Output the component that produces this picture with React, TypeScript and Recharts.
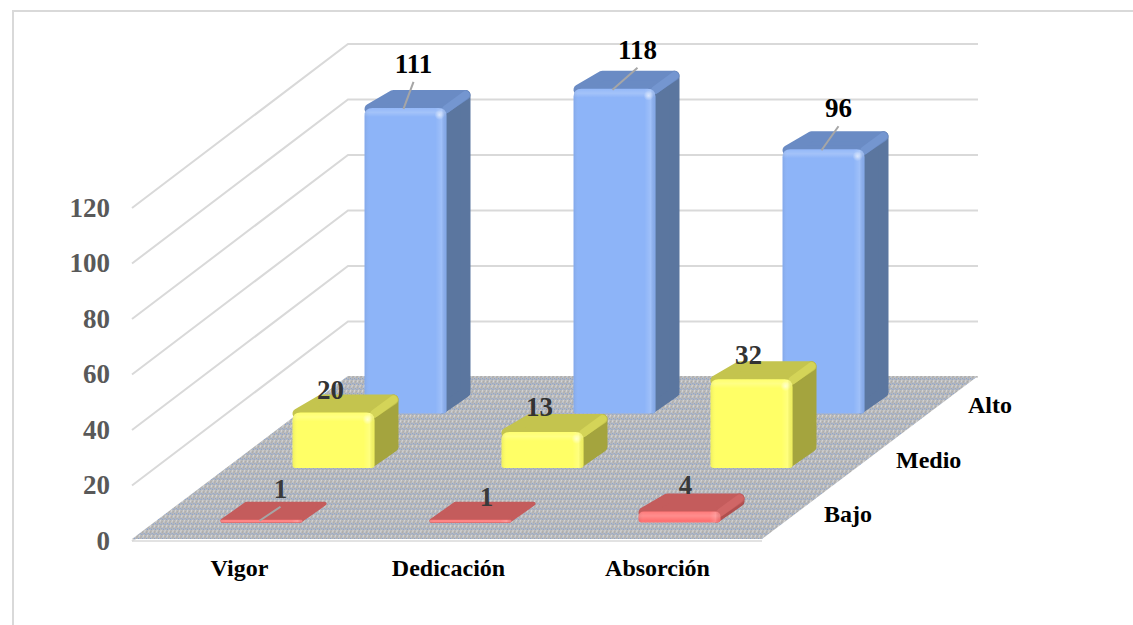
import React from "react";
import { Bar, BarChart, CartesianGrid, LabelList, XAxis, YAxis } from "recharts";

const categories = ["Vigor", "Dedicación", "Absorción"];
const bajo = [1, 1, 4];
const medio = [20, 13, 32];
const alto = [111, 118, 96];
const depthNames = ["Bajo", "Medio", "Alto"];
const yTicks = [0, 20, 40, 60, 80, 100, 120];

const table = categories.map((name, i) => ({
  name,
  Bajo: bajo[i],
  Medio: medio[i],
  Alto: alto[i],
}));

const FONT = '"Liberation Serif", "Times New Roman", serif';
const WIDTH = 1133;
const HEIGHT = 625;
const BAR_W = 82;

// one depth row moves a bar this far back along the floor
const ROW_DX = 72;
const ROW_DY = -54.5;
const FRONT_GAP_X = 21.5;
const FRONT_GAP_Y = -17.5;
// depth of a single block
const BLOCK_DX = 24;
const BLOCK_DY = -18;
// how far the whole floor runs back
const FLOOR_DX_L = 213;
const FLOOR_DX_R = 216;
const FLOOR_DY = -163;

interface Look {
  row: number;
  // rows further back come out slightly shorter in perspective
  shrink: number;
  front: string;
  top: string;
  side: string;
  bevel: string;
  text: string;
  // hand placed data labels, relative to the block's front top-left corner
  nudge: [number, number][];
  leader: boolean[];
}

const LOOKS: Record<string, Look> = {
  Bajo: {
    row: 0,
    shrink: 1,
    front: "#ff7272",
    top: "#c45c5c",
    side: "#b04f4f",
    bevel: "#d06666",
    text: "#3a3a3a",
    nudge: [[60, -31], [57, -23], [47, -26]],
    leader: [true, false, false],
  },
  Medio: {
    row: 1,
    shrink: 1,
    front: "#ffff66",
    top: "#c4c44e",
    side: "#a4a43e",
    bevel: "#d4d458",
    text: "#333333",
    nudge: [[38, -23], [38, -25], [38, -24]],
    leader: [false, false, false],
  },
  Alto: {
    row: 2,
    shrink: 0.992,
    front: "#8db4f8",
    top: "#6a8bc4",
    side: "#5b769f",
    bevel: "#7496d0",
    text: "#000000",
    nudge: [[49, -44], [64, -39], [56, -41]],
    leader: [true, true, true],
  },
};

function frontCorner(x: number, y: number, h: number, look: Look) {
  return {
    fx: x + FRONT_GAP_X + look.row * ROW_DX,
    fy: y + h * (1 - look.shrink) + FRONT_GAP_Y + look.row * ROW_DY,
    fh: h * look.shrink,
  };
}

// Front face outline: generous radius on top, tight at the foot.
function frontPath(x: number, y: number, w: number, h: number) {
  const rt = Math.min(8, h / 2);
  const rb = Math.min(3, h / 2);
  return (
    `M${x},${y + rt} Q${x},${y} ${x + rt},${y} H${x + w - rt} Q${x + w},${y} ${x + w},${y + rt} ` +
    `V${y + h - rb} Q${x + w},${y + h} ${x + w - rb},${y + h} H${x + rb} Q${x},${y + h} ${x},${y + h - rb} Z`
  );
}

// Extruded block: side and top faces behind a front face with soft bevels.
function Block(props: any) {
  const { x, y, width: w, height, look } = props as {
    x: number;
    y: number;
    width: number;
    height: number;
    look: Look;
  };
  const { fx, fy, fh: h } = frontCorner(x, y, height, look);
  const bottom = fy + h;
  const right = fx + w;
  const band = Math.min(9, h);
  const flat = h < 6;
  const inset = flat ? 2 : 5;
  const backY = fy + BLOCK_DY + inset;
  const backR = right + BLOCK_DX - inset;
  const top = [
    [fx + inset, fy + 1],
    [right - 2, fy + 1],
    [backR, backY],
    [fx + BLOCK_DX + inset, backY],
  ];
  const side = [
    [right - 4, fy + 4],
    [backR, backY],
    [backR, Math.max(bottom + BLOCK_DY - inset + 2, backY)],
    [right - 4, bottom - 5],
  ];
  const pts = (p: number[][]) => p.map((c) => c.join(",")).join(" ");
  const d = frontPath(fx, fy, w, h);
  return (
    <g>
      {!flat && (
        <polygon
          points={pts(side)}
          fill={look.side}
          stroke={look.side}
          strokeWidth={inset * 2}
          strokeLinejoin="round"
        />
      )}
      <polygon
        points={pts(top)}
        fill={look.top}
        stroke={look.top}
        strokeWidth={inset * 2}
        strokeLinejoin="round"
      />
      {!flat && (
        <line
          x1={right}
          y1={fy + 1}
          x2={backR}
          y2={backY}
          stroke={look.bevel}
          strokeWidth={8}
          strokeLinecap="round"
        />
      )}
      <path d={d} fill={look.front} />
      <clipPath id={`face-${look.row}-${Math.round(fx)}`}>
        <path d={d} />
      </clipPath>
      <g clipPath={`url(#face-${look.row}-${Math.round(fx)})`}>
        <rect x={fx} y={fy} width={w} height={band} fill="url(#bevelTop)" />
        <rect x={fx} y={fy} width={6} height={h} fill="url(#bevelLeft)" />
        <rect x={right - 11} y={fy} width={11} height={h} fill="url(#bevelRight)" />
        {h > 20 && <circle cx={right - 7} cy={fy + 7} r={5} fill="url(#bevelSpot)" />}
      </g>
    </g>
  );
}

// Value text placed by hand, with a thin leader where the label sits away from its bar.
function BlockLabel(props: any) {
  const { x, y, height, index, value, look } = props;
  const { fx, fy } = frontCorner(x, y, height, look);
  const [dx, dy] = look.nudge[index];
  const lx = fx + dx;
  const ly = fy + dy;
  return (
    <g>
      {look.leader[index] && (
        <line x1={fx + 39} y1={fy + 1} x2={lx} y2={ly + 18} stroke="#a6a6a6" strokeWidth={2} />
      )}
      <text
        x={lx}
        y={ly}
        textAnchor="middle"
        dominantBaseline="central"
        fontFamily={FONT}
        fontWeight="bold"
        fontSize={27}
        fill={look.text}
      >
        {value}
      </text>
    </g>
  );
}

// Side wall and back wall rule for one tick, plus the floor at the zero tick.
function WallLine(props: any) {
  const { x1, x2, y1, index } = props;
  const isFloor = index === 0;
  const backY = y1 + FLOOR_DY;
  const backL = x1 + FLOOR_DX_L;
  const backR = x2 + FLOOR_DX_R;
  return (
    <g key={`wall-${index}`}>
      <polyline
        points={`${x1 - 3},${y1 + 1} ${backL},${backY} ${backR},${backY}`}
        fill="none"
        stroke="#d9d9d9"
        strokeWidth={2}
      />
      {isFloor && (
        <g>
          <polygon
            points={`${x1 - 3},${y1 - 1} ${x2},${y1 - 1} ${backR},${backY - 1} ${backL},${backY - 1}`}
            fill="url(#floorWeave)"
          />
          <line x1={x1 - 3} y1={y1 + 1} x2={x2} y2={y1 + 1} stroke="#d9d9d9" strokeWidth={1.5} />
        </g>
      )}
    </g>
  );
}

const SERIES = ["Alto", "Medio", "Bajo"];

export default function App() {
  return (
    <div
      style={{
        position: "absolute",
        left: 0,
        top: 0,
        width: WIDTH,
        height: HEIGHT,
        overflow: "hidden",
        background: "#ffffff",
      }}
    >
      <div
        style={{
          position: "absolute",
          left: 12,
          top: 10,
          width: WIDTH + 40,
          height: HEIGHT + 40,
          border: "2px solid #d9d9d9",
        }}
      />
      <div style={{ position: "absolute", left: 0, top: 0 }}>
        <BarChart
          width={WIDTH}
          height={HEIGHT}
          data={table}
          margin={{ top: 207, right: 371, bottom: 0, left: 0 }}
          barSize={BAR_W}
          barGap={-BAR_W}
        >
          <defs>
            <linearGradient id="bevelTop" x1="0" y1="0" x2="0" y2="1">
              <stop offset="0%" stopColor="#ffffff" stopOpacity={0.06} />
              <stop offset="50%" stopColor="#ffffff" stopOpacity={0.2} />
              <stop offset="100%" stopColor="#ffffff" stopOpacity={0} />
            </linearGradient>
            <linearGradient id="bevelLeft" x1="0" y1="0" x2="1" y2="0">
              <stop offset="0%" stopColor="#000000" stopOpacity={0.07} />
              <stop offset="100%" stopColor="#ffffff" stopOpacity={0} />
            </linearGradient>
            <linearGradient id="bevelRight" x1="0" y1="0" x2="1" y2="0">
              <stop offset="0%" stopColor="#ffffff" stopOpacity={0} />
              <stop offset="55%" stopColor="#ffffff" stopOpacity={0.16} />
              <stop offset="100%" stopColor="#000000" stopOpacity={0.06} />
            </linearGradient>
            <radialGradient id="bevelSpot">
              <stop offset="0%" stopColor="#ffffff" stopOpacity={0.6} />
              <stop offset="100%" stopColor="#ffffff" stopOpacity={0} />
            </radialGradient>
            <pattern
              id="floorWeave"
              width={4}
              height={5}
              patternUnits="userSpaceOnUse"
              patternTransform="skewX(-18)"
            >
              <rect width={4} height={5} fill="#bababa" />
              <rect x={1} y={0} width={1} height={3} fill="#d6d6d6" />
              <rect x={3} y={1} width={1} height={2} fill="#a8a8a8" />
              <rect x={1} y={3} width={1} height={1} fill="#6d92d6" />
              <rect x={3} y={4} width={1} height={1} fill="#7c9dd8" />
            </pattern>
          </defs>
          <CartesianGrid vertical={false} horizontal={WallLine} />
          <XAxis
            dataKey="name"
            height={85}
            axisLine={false}
            tickLine={false}
            tickSize={0}
            tickMargin={19}
            interval={0}
            tick={{ fill: "#000000", fontFamily: FONT, fontWeight: "bold", fontSize: 24 }}
          />
          <YAxis
            width={135}
            domain={[0, 120]}
            ticks={yTicks}
            interval={0}
            axisLine={false}
            tickLine={false}
            tickSize={0}
            tickMargin={25}
            tick={{ fill: "#595959", fontFamily: FONT, fontWeight: "bold", fontSize: 27 }}
          />
          {SERIES.map((key) => {
            const look = LOOKS[key];
            return (
              <Bar
                key={key}
                dataKey={key}
                isAnimationActive={false}
                shape={(p: any) => <Block {...p} look={look} />}
              >
                <LabelList dataKey={key} content={(p: any) => <BlockLabel {...p} look={look} />} />
              </Bar>
            );
          })}
          <g>
            {depthNames.map((name, row) => (
              <text
                key={name}
                x={824 + row * ROW_DX}
                y={522 + row * ROW_DY}
                fontFamily={FONT}
                fontWeight="bold"
                fontSize={24}
                fill="#000000"
              >
                {name}
              </text>
            ))}
          </g>
        </BarChart>
      </div>
    </div>
  );
}
